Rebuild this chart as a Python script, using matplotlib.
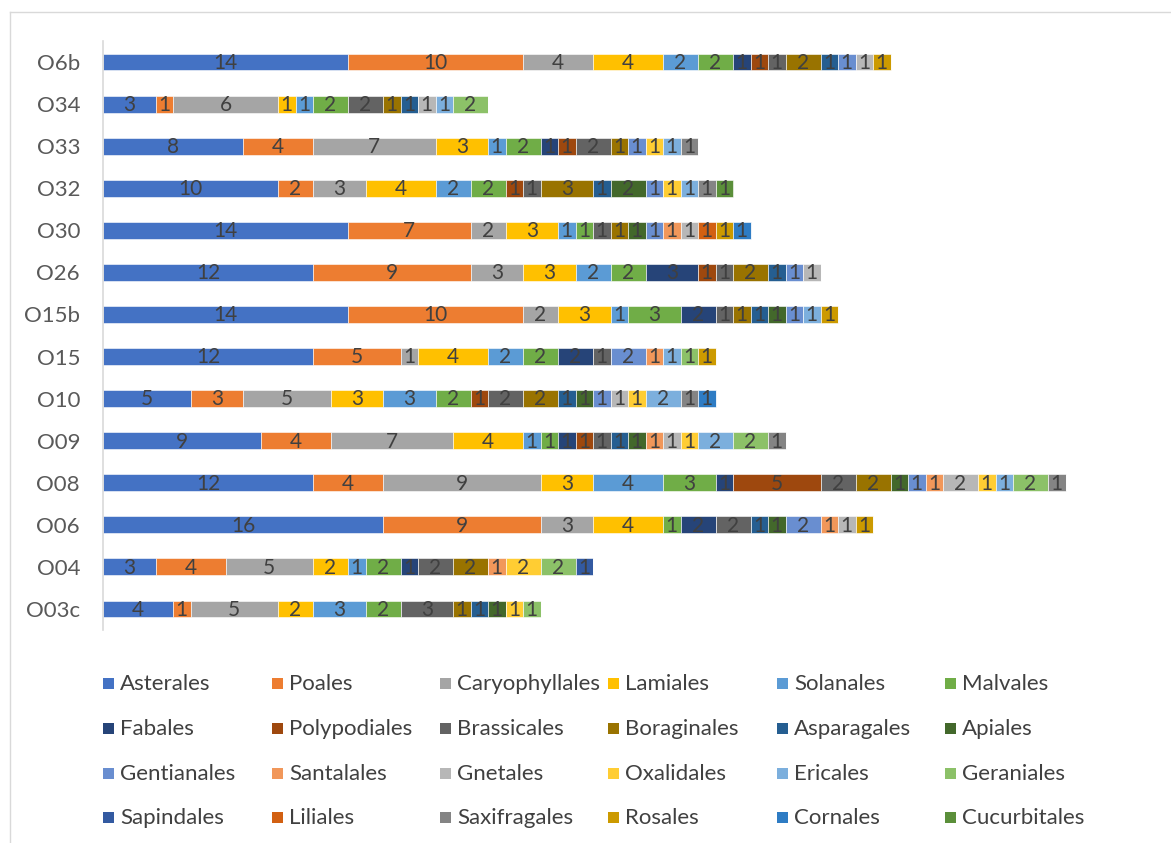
import matplotlib
matplotlib.use("Agg")
import matplotlib.pyplot as plt
from matplotlib.patches import Rectangle
from matplotlib.lines import Line2D
import numpy as np

plt.rcParams['font.family'] = ['Lato', 'DejaVu Sans']

sites = ["O03c", "O04", "O06", "O08", "O09", "O10", "O15", "O15b",
         "O26", "O30", "O32", "O33", "O34", "O6b"]

orders = ["Asterales", "Poales", "Caryophyllales", "Lamiales", "Solanales", "Malvales",
          "Fabales", "Polypodiales", "Brassicales", "Boraginales", "Asparagales", "Apiales",
          "Gentianales", "Santalales", "Gnetales", "Oxalidales", "Ericales", "Geraniales",
          "Sapindales", "Liliales", "Saxifragales", "Rosales", "Cornales", "Cucurbitales"]

colors = ["#4472C4", "#ED7D31", "#A5A5A5", "#FFC000", "#5B9BD5", "#70AD47",
          "#264478", "#9E480E", "#636363", "#997300", "#255E91", "#43682B",
          "#698ED0", "#F1975A", "#B7B7B7", "#FFCD33", "#7CAFDD", "#8CC168",
          "#335AA1", "#D26012", "#848484", "#CC9A00", "#2E7CC4", "#5B8F3A"]

# counts per site (order follows `orders`), rows follow `sites`
Asterales      = [4, 3, 16, 12, 9, 5, 12, 14, 12, 14, 10, 8, 3, 14]
Poales         = [1, 4, 9, 4, 4, 3, 5, 10, 9, 7, 2, 4, 1, 10]
Caryophyllales = [5, 5, 3, 9, 7, 5, 1, 2, 3, 2, 3, 7, 6, 4]
Lamiales       = [2, 2, 4, 3, 4, 3, 4, 3, 3, 3, 4, 3, 1, 4]
Solanales      = [3, 1, 0, 4, 1, 3, 2, 1, 2, 1, 2, 1, 1, 2]
Malvales       = [2, 2, 1, 3, 1, 2, 2, 3, 2, 1, 2, 2, 2, 2]
Fabales        = [0, 1, 2, 1, 1, 0, 2, 2, 3, 0, 0, 1, 0, 1]
Polypodiales   = [0, 0, 0, 5, 1, 1, 0, 0, 1, 0, 1, 1, 0, 1]
Brassicales    = [3, 2, 2, 2, 1, 2, 1, 1, 1, 1, 1, 2, 2, 1]
Boraginales    = [1, 2, 0, 2, 0, 2, 0, 1, 2, 1, 3, 1, 1, 2]
Asparagales    = [1, 0, 1, 0, 1, 1, 0, 1, 1, 0, 1, 0, 1, 1]
Apiales        = [1, 0, 1, 1, 1, 1, 0, 1, 0, 1, 2, 0, 0, 0]
Gentianales    = [0, 0, 2, 1, 0, 1, 2, 1, 1, 1, 1, 1, 0, 1]
Santalales     = [0, 1, 1, 1, 1, 0, 1, 0, 0, 1, 0, 0, 0, 0]
Gnetales       = [0, 0, 1, 2, 1, 1, 0, 0, 1, 1, 0, 0, 1, 1]
Oxalidales     = [1, 2, 0, 1, 1, 1, 0, 0, 0, 0, 1, 1, 0, 0]
Ericales       = [0, 0, 0, 1, 2, 2, 1, 1, 0, 0, 1, 1, 1, 0]
Geraniales     = [1, 2, 0, 2, 2, 0, 1, 0, 0, 0, 0, 0, 2, 0]
Sapindales     = [0, 1, 0, 0, 0, 0, 0, 0, 0, 0, 0, 0, 0, 0]
Liliales       = [0, 0, 0, 0, 0, 0, 0, 0, 0, 1, 0, 0, 0, 0]
Saxifragales   = [0, 0, 0, 1, 1, 1, 0, 0, 0, 0, 1, 1, 0, 0]
Rosales        = [0, 0, 1, 0, 0, 0, 1, 1, 0, 1, 0, 0, 0, 1]
Cornales       = [0, 0, 0, 0, 0, 1, 0, 0, 0, 1, 0, 0, 0, 0]
Cucurbitales   = [0, 0, 0, 0, 0, 0, 0, 0, 0, 0, 1, 0, 0, 0]

series = [Asterales, Poales, Caryophyllales, Lamiales, Solanales, Malvales,
          Fabales, Polypodiales, Brassicales, Boraginales, Asparagales, Apiales,
          Gentianales, Santalales, Gnetales, Oxalidales, Ericales, Geraniales,
          Sapindales, Liliales, Saxifragales, Rosales, Cornales, Cucurbitales]

W, H = 1171, 843
fig = plt.figure(figsize=(W / 100, H / 100), dpi=100)
fig.patch.set_facecolor("white")

left, right, top, bottom = 103, 1153, 41, 630
ax = fig.add_axes([left / W, 1 - bottom / H, (right - left) / W, (bottom - top) / H])

y = np.arange(len(sites))
base = np.zeros(len(sites))
for name, vals, col in zip(orders, series, colors):
    v = np.array(vals, dtype=float)
    bars = ax.barh(y, v, left=base, height=0.4, color=col, edgecolor="white",
                   linewidth=0.4, label=name)
    for rect, val in zip(bars, v):
        if val > 0:
            ax.text(rect.get_x() + rect.get_width() / 2,
                    rect.get_y() + rect.get_height() / 2 - 0.02,
                    f"{int(val)}", ha="center", va="center", fontsize=15, color="#404040")
    base += v

ax.set_xlim(0, 60)
ax.set_ylim(-0.5, len(sites) - 0.5)
ax.set_yticks(y)
ax.set_yticklabels(sites, fontsize=16, color="#595959")
ax.tick_params(axis="y", length=0, pad=16.5)
ax.set_xticks([])
for s in ["top", "right", "bottom"]:
    ax.spines[s].set_visible(False)
ax.spines["left"].set_color("#D9D9D9")
ax.spines["left"].set_linewidth(1.2)

# legend (row-major, 6 columns)
col_x = [103, 272, 440, 608, 777, 945]
row_y = [683, 728, 773, 817]
for i, (name, col) in enumerate(zip(orders, colors)):
    r, c = divmod(i, 6)
    x0, y0 = col_x[c], row_y[r]
    fig.add_artist(Rectangle((x0 / W, 1 - (y0 + 5.5) / H), 11 / W, 11 / H,
                             transform=fig.transFigure, facecolor=col, edgecolor="none"))
    fig.text((x0 + 17) / W, 1 - (y0 + 1) / H, name, ha="left", va="center",
             fontsize=16, color="#404040")

# chart border
fig.add_artist(Line2D([10 / W, 1.0], [1 - 12 / H, 1 - 12 / H], transform=fig.transFigure,
                      color="#D9D9D9", linewidth=1))
fig.add_artist(Line2D([10 / W, 10 / W], [1 - 12 / H, 0.0], transform=fig.transFigure,
                      color="#D9D9D9", linewidth=1))

fig.savefig("out.png", dpi=100)
